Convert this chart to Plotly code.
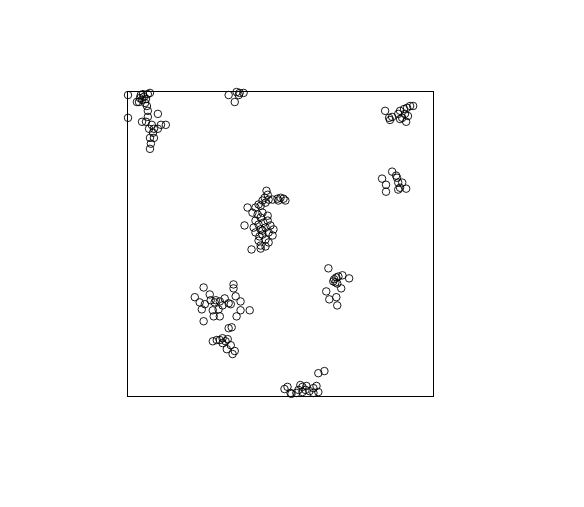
import plotly.graph_objects as go

# Point pattern in the unit square (x, y), grouped by cluster
c1_x = [0.000, 0.000, 0.042, 0.052, 0.046, 0.059, 0.065, 0.036, 0.056, 0.072, 0.029, 0.062, 0.065, 0.065,
        0.059, 0.046, 0.078, 0.085, 0.098, 0.108, 0.124, 0.098, 0.069, 0.082, 0.072, 0.085, 0.075, 0.072, 0.039, 0.049]
c1_y = [0.990, 0.915, 0.990, 0.984, 0.974, 0.977, 0.993, 0.967, 0.964, 0.997, 0.967, 0.954, 0.938, 0.918,
        0.902, 0.902, 0.892, 0.879, 0.928, 0.892, 0.892, 0.879, 0.879, 0.866, 0.849, 0.849, 0.830, 0.813, 0.980, 0.993]

c2_x = [0.330, 0.350, 0.356, 0.379, 0.366, 0.363]
c2_y = [0.990, 0.967, 1.000, 0.997, 0.997, 0.990]

c3_x = [0.843, 0.856, 0.866, 0.886, 0.892, 0.905, 0.915, 0.925, 0.935, 0.908, 0.899, 0.912, 0.918, 0.892, 0.859]
c3_y = [0.938, 0.915, 0.918, 0.928, 0.938, 0.944, 0.948, 0.954, 0.954, 0.928, 0.915, 0.902, 0.921, 0.911, 0.908]

c4_x = [0.866, 0.833, 0.846, 0.846, 0.882, 0.886, 0.899, 0.886, 0.912, 0.892, 0.879]
c4_y = [0.738, 0.715, 0.695, 0.672, 0.718, 0.702, 0.702, 0.679, 0.682, 0.685, 0.725]

c5_x = [0.454, 0.458, 0.448, 0.441, 0.461, 0.474, 0.490, 0.500, 0.510, 0.516, 0.493, 0.451, 0.428, 0.435,
        0.392, 0.418, 0.408, 0.425, 0.441, 0.458, 0.435, 0.382, 0.418, 0.428, 0.444, 0.458, 0.412, 0.435,
        0.451, 0.467, 0.477, 0.418, 0.441, 0.461, 0.474, 0.451, 0.428, 0.461, 0.435, 0.405, 0.435, 0.451,
        0.441, 0.431]
c5_y = [0.675, 0.662, 0.652, 0.643, 0.646, 0.646, 0.649, 0.652, 0.649, 0.643, 0.643, 0.636, 0.630, 0.626,
        0.620, 0.620, 0.603, 0.597, 0.603, 0.593, 0.587, 0.561, 0.577, 0.564, 0.570, 0.577, 0.554, 0.548,
        0.554, 0.561, 0.548, 0.538, 0.531, 0.538, 0.528, 0.515, 0.511, 0.505, 0.495, 0.482, 0.485, 0.492,
        0.544, 0.525]

c6_x = [0.657, 0.676, 0.683, 0.703, 0.725, 0.699, 0.650, 0.683, 0.660, 0.686, 0.686, 0.673, 0.690, 0.680]
c6_y = [0.420, 0.384, 0.390, 0.397, 0.387, 0.354, 0.344, 0.325, 0.318, 0.298, 0.370, 0.377, 0.393, 0.374]

c7_x = [0.346, 0.346, 0.353, 0.248, 0.219, 0.235, 0.268, 0.288, 0.301, 0.317, 0.284, 0.252, 0.242, 0.271,
        0.281, 0.301, 0.248, 0.330, 0.337, 0.369, 0.369, 0.399, 0.356, 0.297, 0.310, 0.278]
c7_y = [0.367, 0.354, 0.328, 0.357, 0.325, 0.308, 0.334, 0.315, 0.311, 0.321, 0.308, 0.302, 0.285, 0.315,
        0.262, 0.262, 0.246, 0.305, 0.302, 0.311, 0.282, 0.282, 0.262, 0.285, 0.298, 0.282]

c8_x = [0.330, 0.340, 0.278, 0.291, 0.310, 0.327, 0.310, 0.337, 0.324, 0.350, 0.343, 0.301, 0.320]
c8_y = [0.223, 0.226, 0.180, 0.184, 0.190, 0.187, 0.174, 0.167, 0.154, 0.148, 0.138, 0.184, 0.180]

c9_x = [0.513, 0.523, 0.533, 0.536, 0.552, 0.565, 0.572, 0.585, 0.572, 0.595, 0.608, 0.618, 0.624, 0.608,
        0.624, 0.644, 0.559, 0.582]
c9_y = [0.023, 0.030, 0.010, 0.007, 0.010, 0.036, 0.030, 0.033, 0.013, 0.016, 0.026, 0.033, 0.013, 0.010,
        0.075, 0.082, 0.020, 0.020]

xs = c1_x + c2_x + c3_x + c4_x + c5_x + c6_x + c7_x + c8_x + c9_x
ys = c1_y + c2_y + c3_y + c4_y + c5_y + c6_y + c7_y + c8_y + c9_y

fig = go.Figure(go.Scatter(
    x=xs, y=ys, mode="markers", cliponaxis=False,
    marker=dict(symbol="circle-open", size=7.5, color="black", line=dict(width=0.9, color="black")),
    hoverinfo="skip", showlegend=False,
))

axis = dict(range=[0, 1], showline=True, mirror=True, linecolor="black", linewidth=1,
            showgrid=False, zeroline=False, showticklabels=False, ticks="", fixedrange=True)

fig.update_layout(
    width=584, height=507,
    margin=dict(l=120, r=159, t=84, b=119, pad=0),
    paper_bgcolor="white", plot_bgcolor="white",
    xaxis=axis, yaxis=axis,
)

fig.write_html("out.html")
